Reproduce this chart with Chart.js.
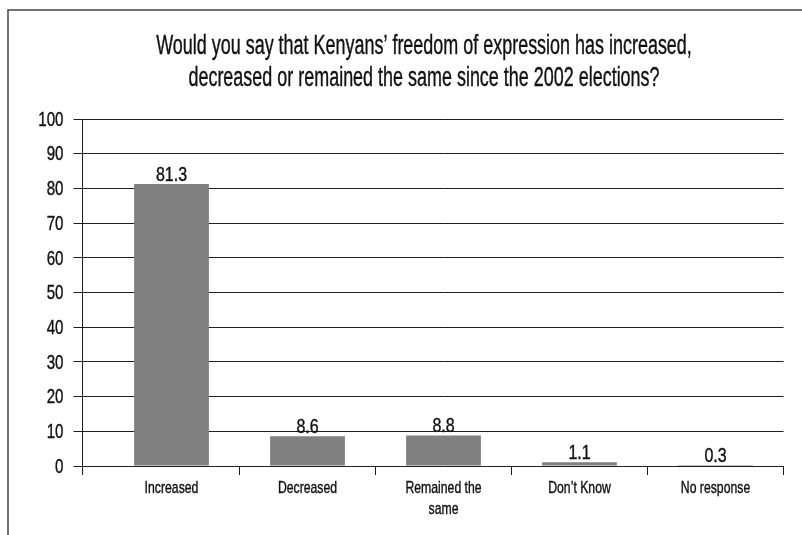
<!DOCTYPE html>
<html>
<head>
<meta charset="utf-8">
<title>Freedom of expression since 2002</title>
<script src="https://cdn.jsdelivr.net/npm/chart.js@4.4.1/dist/chart.umd.min.js"></script>
<style>
  html, body { margin: 0; padding: 0; background: #fff; overflow: hidden; }
  canvas { display: block; }
</style>
</head>
<body>
<canvas id="expressionChart" width="802" height="535"></canvas>
<script>
// ===== Data =====
const categories = ['Increased', 'Decreased', ['Remained the', 'same'], 'Don\u2019t Know', 'No response'];
const percentages = [81.3, 8.6, 8.8, 1.1, 0.3];
const yTicks = [0, 10, 20, 30, 40, 50, 60, 70, 80, 90, 100];
const titleLines = [
  'Would you say that Kenyans\u2019 freedom of expression has increased,',
  'decreased or remained the same since the 2002 elections?'
];

// ===== Look =====
const FONT = "'Liberation Sans', Arial, sans-serif";
const INK = '#111';
const RULE = '#1e1e1e';
const FRAME = { left: 8, top: 10, right: 840 };

// condensed text: draw in a horizontally squeezed context, lightly stroked for weight
function narrowText(ctx, text, x, y, size, squeeze, align, baseline) {
  ctx.save();
  ctx.fillStyle = INK;
  ctx.strokeStyle = INK;
  ctx.lineWidth = 0.4;
  ctx.font = `${size}px ${FONT}`;
  ctx.textAlign = align;
  ctx.textBaseline = baseline;
  ctx.scale(squeeze, 1);
  ctx.fillText(text, x / squeeze, y);
  ctx.strokeText(text, x / squeeze, y);
  ctx.restore();
}

// outer frame + two-line title
const framePlugin = {
  id: 'frame',
  beforeDraw(chart) {
    const { ctx, height } = chart;
    ctx.save();
    ctx.strokeStyle = '#444';
    ctx.lineWidth = 1.5;
    ctx.beginPath();
    ctx.moveTo(FRAME.left, height);
    ctx.lineTo(FRAME.left, FRAME.top);
    ctx.lineTo(FRAME.right, FRAME.top);
    ctx.stroke();
    ctx.restore();
    const cx = (FRAME.left + FRAME.right) / 2;
    titleLines.forEach((line, i) => narrowText(ctx, line, cx, 54 + i * 32, 27, 0.665, 'center', 'alphabetic'));
  }
};

// axis labels, drawn condensed at the scales' own tick positions
const axisLabels = {
  id: 'axisLabels',
  afterDraw(chart) {
    const { ctx, chartArea, scales } = chart;
    scales.y.ticks.forEach(t => {
      narrowText(ctx, String(t.value), chartArea.left - 40, scales.y.getPixelForValue(t.value) + 1, 21, 0.72, 'right', 'middle');
    });
    categories.forEach((label, i) => {
      const x = scales.x.getPixelForTick(i);
      [].concat(label).forEach((line, j) => {
        narrowText(ctx, line, x, chartArea.bottom + 27 + j * 21, 17, 0.72, 'center', 'alphabetic');
      });
    });
  }
};

// value printed above each bar
const valueLabels = {
  id: 'valueLabels',
  afterDatasetsDraw(chart) {
    const meta = chart.getDatasetMeta(0);
    meta.data.forEach((bar, i) => {
      narrowText(chart.ctx, percentages[i].toFixed(1), bar.x, bar.y - 3, 20, 0.8, 'center', 'alphabetic');
    });
  }
};

// vertical value axis sits left of the first category
const valueAxisLine = {
  id: 'valueAxisLine',
  afterDraw(chart) {
    const { ctx, chartArea, scales } = chart;
    const x = Math.round(chartArea.left - 21.5) + 0.5;
    ctx.save();
    ctx.strokeStyle = RULE;
    ctx.lineWidth = 1;
    ctx.beginPath();
    ctx.moveTo(x, scales.y.getPixelForValue(yTicks[yTicks.length - 1]));
    ctx.lineTo(x, chartArea.bottom + 9);
    ctx.stroke();
    ctx.restore();
  }
};

new Chart(document.getElementById('expressionChart'), {
  type: 'bar',
  data: {
    labels: categories,
    datasets: [{
      data: percentages,
      backgroundColor: '#808080',
      borderWidth: 0,
      categoryPercentage: 1,
      barPercentage: 0.55
    }]
  },
  options: {
    responsive: false,
    animation: false,
    events: [],
    layout: { padding: { top: 119, left: 8, right: 18.5, bottom: 0 } },
    plugins: { legend: { display: false }, title: { display: false }, tooltip: { enabled: false } },
    scales: {
      x: {
        offset: true,
        border: { display: false },
        grid: {
          offset: true,
          drawOnChartArea: false,
          drawTicks: true,
          tickLength: 9,
          color: (c) => c.index === 0 ? 'rgba(0,0,0,0)' : RULE
        },
        ticks: { display: false },
        afterFit: (s) => { s.height = 69; }
      },
      y: {
        min: 0,
        max: 100,
        border: { display: false },
        grid: { color: RULE, lineWidth: 1, tickLength: 30 },
        ticks: { display: false },
        afterBuildTicks: (s) => { s.ticks = yTicks.map(v => ({ value: v })); },
        afterFit: (s) => { s.width = 95.5; }
      }
    }
  },
  plugins: [framePlugin, axisLabels, valueLabels, valueAxisLine]
});
</script>
</body>
</html>
